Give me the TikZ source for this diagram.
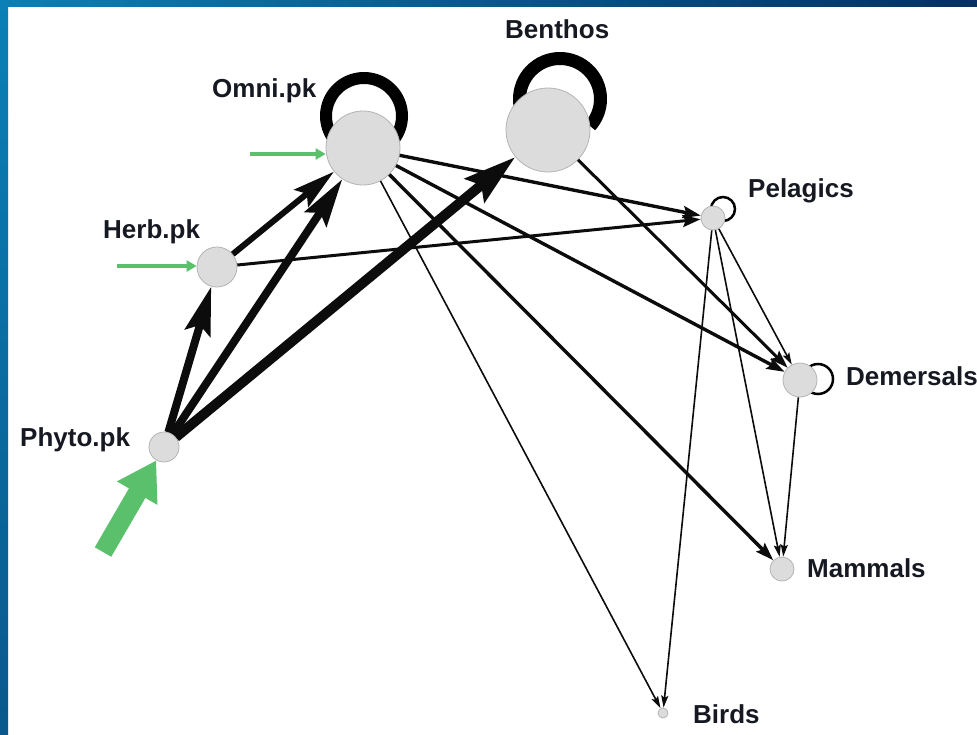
\documentclass[tikz,border=0pt]{standalone}
\usepackage{fontspec}
\setmainfont{Liberation Sans}
\usetikzlibrary{arrows.meta}
\definecolor{nodefill}{RGB}{220,220,220}
\definecolor{nodeline}{RGB}{180,180,180}
\definecolor{grn}{RGB}{90,192,108}
\definecolor{ink}{RGB}{12,12,12}
\definecolor{txt}{RGB}{22,25,34}
\definecolor{bandA}{RGB}{10,128,182}
\definecolor{bandB}{RGB}{6,48,98}
\definecolor{bandC}{RGB}{10,88,140}
\begin{document}
\begin{tikzpicture}[x=1pt,y=-1pt,
  sp/.style={circle,fill=nodefill,draw=nodeline,line width=0.8pt,inner sep=0pt,minimum size=#1},
  lbl/.style={anchor=base west,font=\fontsize{26}{30}\selectfont\bfseries,text=txt,inner sep=0pt},
  thin/.style={draw=ink,line width=1.6pt,-{Stealth[length=12pt,width=7pt,inset=2pt]}},
  mid/.style={draw=ink,line width=3.4pt,-{Stealth[length=18pt,width=12pt,inset=3pt]}},
  fat/.style={draw=ink,line width=#1,-{Stealth[length=48pt,width=26pt,inset=8pt]}},
  loopring/.style={draw=black,line width=#1},
  gin/.style={draw=grn,line width=4pt,-{Triangle[length=10pt,width=11pt]}}
]
\useasboundingbox (0,0) rectangle (977,734);
\fill[white] (0,0) rectangle (977,734);
\shade[left color=bandA,right color=bandB] (0,0) rectangle (977,6);
\shade[top color=bandA,bottom color=bandC] (0,0) rectangle (8,734);

% self loops
\draw[loopring=12pt] (364,116) circle[radius=38];
\draw[loopring=13pt] ([shift={(140:40.5)}]560,99) arc[start angle=140,end angle=402,radius=40.5];
\draw[loopring=2.5pt] (723,209) circle[radius=12];
\draw[loopring=2.5pt] (818,379) circle[radius=15];

% nodes
\node[sp=74pt] (omni) at (363,148) {};
\node[sp=84pt] (benthos) at (548,130) {};
\node[sp=40pt] (herb) at (217,267) {};
\node[sp=30pt] (phyto) at (164,447) {};
\node[sp=24pt] (pelagics) at (713,218) {};
\node[sp=34pt] (demersals) at (800,380) {};
\node[sp=24pt] (mammals) at (782,569) {};
\node[sp=10pt] (birds) at (663,713) {};

% labels
\node[lbl] (lbenthos) at (505,38) {Benthos};
\node[lbl] (lomni) at (212,97) {Omni.pk};
\node[lbl] (lherb) at (103,238) {Herb.pk};
\node[lbl] (lphyto) at (20,446) {Phyto.pk};
\node[lbl] (lpel) at (748,197) {Pelagics};
\node[lbl] (ldem) at (846,385) {Demersals};
\node[lbl] (lmam) at (807,577) {Mammals};
\node[lbl] (lbirds) at (693,723) {Birds};

% flows
\draw[fat=8pt] (phyto) -- (herb);
\draw[fat=8pt] (phyto) -- (omni);
\draw[draw=ink,line width=10pt,-{Stealth[length=52pt,width=30pt,inset=8pt]}] (phyto) -- (benthos);
\draw[draw=ink,line width=6pt,-{Stealth[length=42pt,width=22pt,inset=7pt]}] (herb) -- (omni);
\draw[mid,line width=3pt] (herb) -- (pelagics);
\draw[mid] (omni) -- (pelagics);
\draw[mid] (omni) -- (demersals);
\draw[mid] (omni) -- (mammals);
\draw[thin] (omni) -- (birds);
\draw[mid,line width=3pt] (benthos) -- (demersals);
\draw[thin] (pelagics) -- (demersals);
\draw[thin] (pelagics) -- (mammals);
\draw[thin] (pelagics) -- (birds);
\draw[thin] (demersals) -- (mammals);

% external inputs
\coordinate (gherb) at (117,266);
\coordinate (gomni) at (250,154);
\coordinate (gphyto) at (103,552);
\draw[gin] (gherb) -- (gherb -| herb.west);
\draw[gin,line width=3.5pt] (gomni) -- (gomni -| omni.west);
\draw[draw=grn,line width=19pt,-{Triangle[length=38pt,width=44pt]}] (gphyto) -- (phyto);
\end{tikzpicture}
\end{document}
